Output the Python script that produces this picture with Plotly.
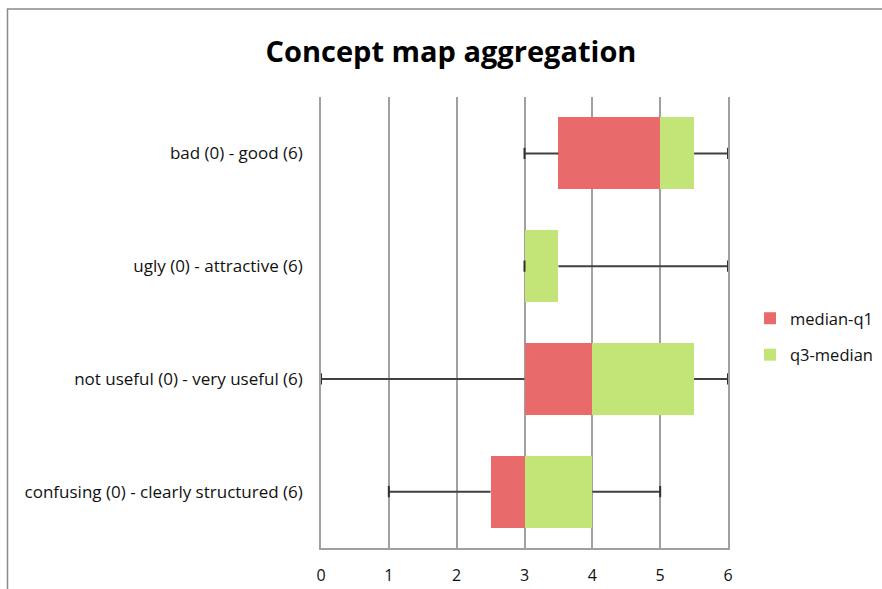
import plotly.graph_objects as go

categories = ["bad (0) - good (6)", "ugly (0) - attractive (6)",
              "not useful (0) - very useful (6)", "confusing (0) - clearly structured (6)"]
q1 = [3.5, 3.0, 3.0, 2.5]
median = [5.0, 3.0, 4.0, 3.0]
q3 = [5.5, 3.5, 5.5, 4.0]
vmin = [3.0, 3.0, 0.0, 1.0]
vmax = [6.0, 6.0, 6.0, 5.0]
x_ticks = [0, 1, 2, 3, 4, 5, 6]

med_q1 = [m - a for m, a in zip(median, q1)]
q3_med = [b - m for b, m in zip(q3, median)]

FONT = "Open Sans"
fig = go.Figure()

# whiskers (drawn under bars)
wx, wy = [], []
for c, a, lo, b, hi in zip(categories, q1, vmin, q3, vmax):
    wx += [lo, a, None, b, hi, None]
    wy += [c, c, None, c, c, None]
fig.add_trace(go.Scatter(x=wx, y=wy, mode="lines", line=dict(color="#404040", width=2),
                         showlegend=False, hoverinfo="skip"))
fig.add_trace(go.Scatter(x=vmin + vmax, y=categories + categories, mode="markers",
                         marker=dict(symbol="line-ns", size=8, line=dict(color="#303030", width=2)),
                         showlegend=False, hoverinfo="skip"))

fig.add_trace(go.Bar(y=categories, x=q1, orientation="h",
                     marker=dict(color="rgba(0,0,0,0)", line=dict(width=0)),
                     showlegend=False, hoverinfo="skip"))
fig.add_trace(go.Bar(y=categories, x=med_q1, orientation="h", name="median-q1",
                     marker=dict(color="#e86a6a", line=dict(width=0)), legendgroup="a"))
fig.add_trace(go.Bar(y=categories, x=q3_med, orientation="h", name="q3-median",
                     marker=dict(color="#c3e477", line=dict(width=0)), legendgroup="b"))

L, R, T, B = 321, 882 - 728, 97, 589 - 548
W, H = 882, 589
pw, ph = W - L - R, H - T - B

def px(p):
    return (p - L) / pw

def py(q):
    return (H - B - q) / ph

LBL = 17
GRID = "#a0a0a0"
fig.update_layout(
    width=W, height=H, barmode="stack", bargap=0.36,
    margin=dict(l=L, r=R, t=T, b=B, autoexpand=False),
    paper_bgcolor="white", plot_bgcolor="white",
    font=dict(family=FONT, size=LBL, color="#111111"),
    title=dict(text="<b>Concept map aggregation</b>", x=451 / W, xanchor="center",
               y=1 - 52 / H, yanchor="middle", font=dict(family=FONT, size=29, color="black")),
    xaxis=dict(range=[0, 6], tickvals=x_ticks, showgrid=True, gridcolor=GRID, gridwidth=1.5,
               zeroline=False, showline=True, linecolor=GRID, linewidth=1.5,
               ticks="", ticklabelstandoff=12, tickfont=dict(size=16)),
    yaxis=dict(autorange="reversed", showgrid=False, zeroline=False, showline=True,
               mirror=True, linecolor=GRID, linewidth=1.5,
               ticks="", ticklabelstandoff=13, tickfont=dict(size=LBL)),
    legend=dict(x=px(750), y=py(301), xanchor="left", yanchor="top", tracegroupgap=12,
                font=dict(size=LBL - 0.5), bgcolor="rgba(0,0,0,0)"),
    shapes=[dict(type="rect", xref="paper", yref="paper", x0=px(7.5), x1=px(900),
                 y0=py(620), y1=py(9), line=dict(color="#8a8a8a", width=1.5), layer="below")],
)

fig.write_html("out.html", config={"displayModeBar": False},
               post_script="document.body.style.margin='0px';")
